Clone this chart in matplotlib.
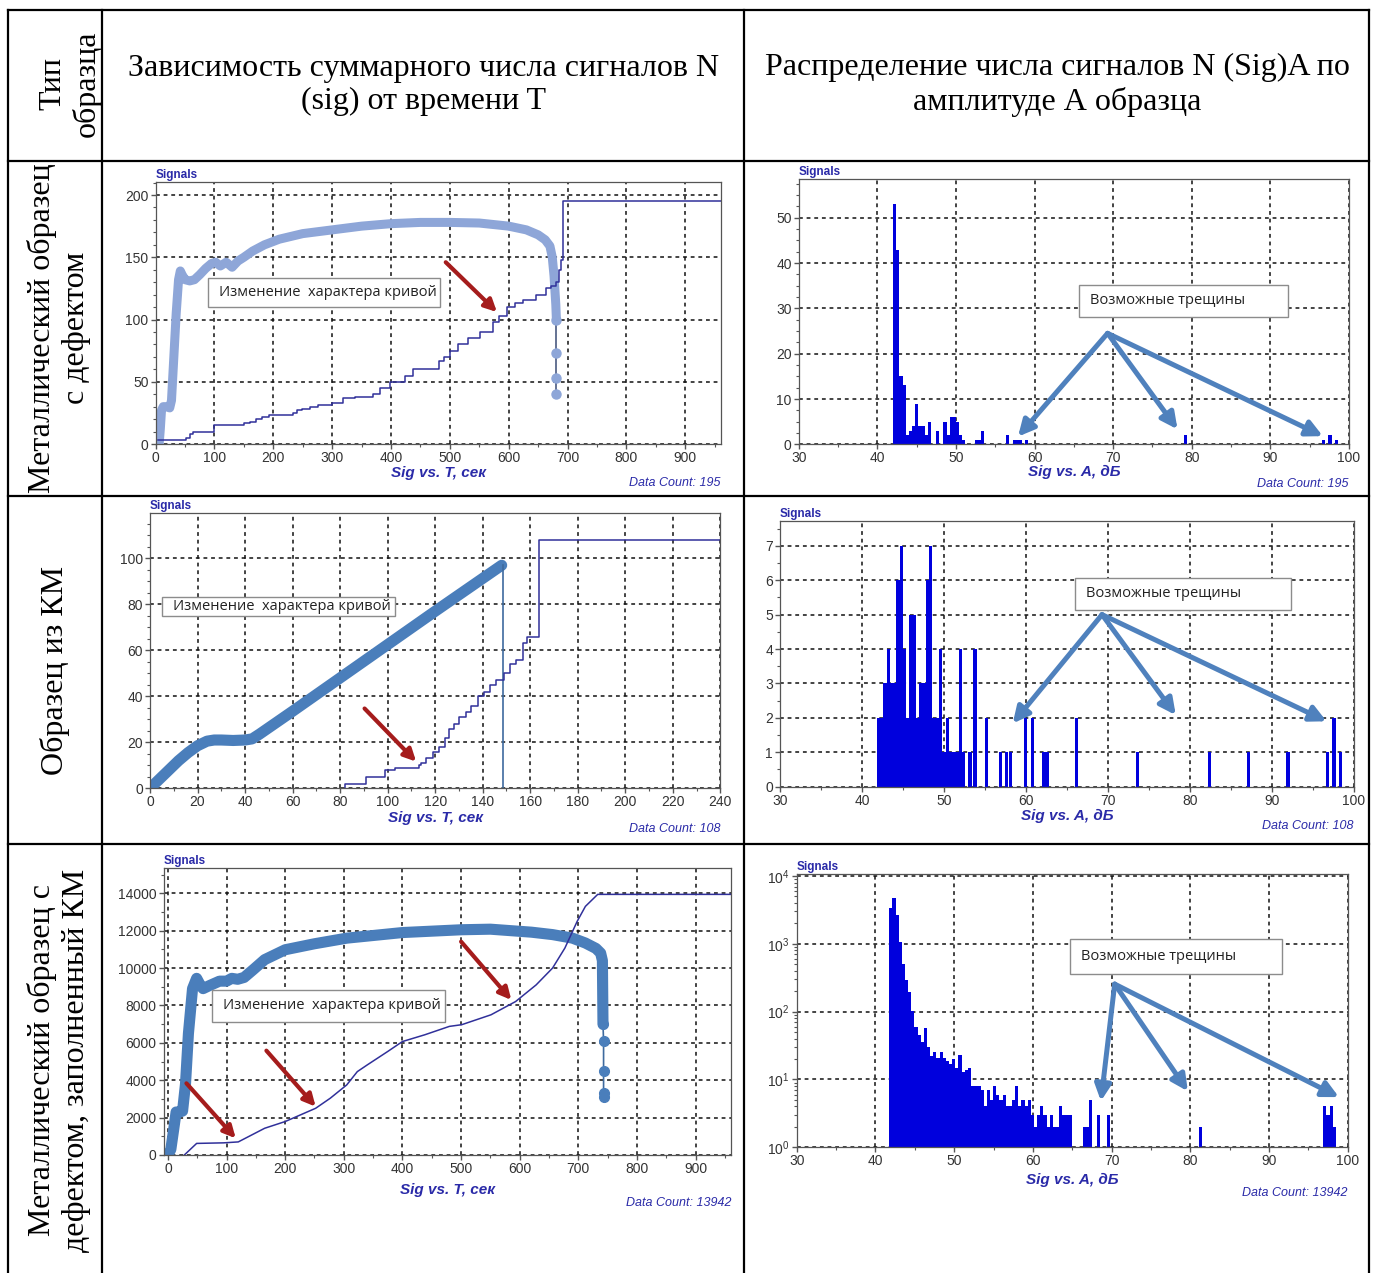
import numpy as np
import matplotlib
matplotlib.use("Agg")
import matplotlib.pyplot as plt
from matplotlib.patches import Rectangle
from matplotlib.ticker import MultipleLocator, LogLocator, NullFormatter

plt.rcParams['font.family'] = ['Liberation Sans', 'DejaVu Sans']

W, H = 1375, 1273

# образец 1: металлический с дефектом
t1_rate = [6, 8, 10, 13, 18, 24, 27, 31, 35, 39, 42, 45, 50, 58, 66, 75, 85, 95, 102, 110,
           120, 130, 140, 150, 165, 185, 210, 250, 300, 350, 400, 450, 500, 550, 600, 630,
           650, 662, 670, 674, 677, 680, 681]
n1_rate = [0, 12, 27, 30, 30, 29, 35, 70, 105, 132, 139, 136, 132, 131, 132, 136, 141, 145, 146, 143,
           146, 142, 147, 150, 155, 160, 164.5, 169, 172, 175, 177, 178, 178, 177.5, 175, 172,
           168, 164, 159, 150, 135, 112, 100]
t1_drop = [681, 681, 681, 681]
n1_drop = [100, 73, 53, 40]
t1_sum = [4, 52, 58, 64, 70, 100, 150, 160, 170, 180, 192, 234, 241, 248, 262, 276, 300, 318, 339, 370,
          381, 398, 423, 437, 479, 482, 490, 500, 514, 531, 552, 573, 583, 597, 611, 625, 646, 664,
          671, 681, 685, 688, 692, 693, 960]
n1_sum = [3, 5, 8, 10, 10, 15, 17, 18, 20, 22, 23, 25, 27, 28, 30, 31, 33, 37, 38, 40,
          45, 50, 55, 60, 60, 67, 70, 75, 80, 85, 90, 98, 103, 110, 113, 116, 120, 125,
          127, 130, 140, 148, 150, 195, 195]
amp1 = [42.0, 42.4, 42.8, 43.2, 43.6, 44.0, 44.4, 44.8, 45.2, 45.6, 46.0, 46.4, 47.4, 48.4, 48.8,
        49.2, 49.6, 50.0, 50.4, 50.8, 52.4, 52.8, 53.2, 56.4, 57.2, 57.6, 58.0, 58.8, 79.0,
        96.6, 97.4, 98.2]
cnt1 = [53, 43, 15, 13, 2, 3, 4, 9, 4, 4, 2, 5, 3, 5, 2, 6, 6, 5, 2, 1, 1, 1, 3, 2, 1, 1, 1, 1, 2,
        1, 2, 1]

# образец 2: из КМ
t2_rate = [0, 4, 8, 12, 16, 20, 24, 27, 30, 35, 40, 43, 46, 60, 80, 100, 120, 148]
n2_rate = [0, 4, 8, 12, 15.5, 18.5, 20.5, 21, 21, 20.8, 21, 21.5, 23.5, 33.5, 48, 62.5, 77, 97]
t2_drop = [148.5, 148.5]
n2_drop = [97, 0]
t2_sum = [82, 82, 91, 99, 103, 113, 114, 116, 119, 121.5, 124, 126, 128, 130, 133, 135, 138, 140.5,
          143, 145.7, 149, 151.7, 154, 157, 158.6, 163.5, 163.5, 240]
n2_sum = [0, 2, 5, 8, 9, 10, 11, 13, 16, 18, 22, 26, 28, 31, 33, 36, 40, 42,
          45, 47, 50, 54, 56, 63, 66, 66, 108, 108]
amp2 = [41.8, 42.2, 42.6, 43.0, 43.4, 43.8, 44.2, 44.6, 45.0, 45.4, 45.8, 46.2, 46.6, 47.0, 47.4,
        47.8, 48.2, 48.6, 49.0, 49.4, 49.8, 50.2, 50.6, 51.0, 51.4, 51.8, 52.2,
        53.0, 53.6, 55.0, 56.7, 57.4, 57.9, 59.8, 60.6, 62.0, 62.4, 66.0, 73.4, 82.2, 87.0, 91.8,
        96.6, 97.4, 98.2]
cnt2 = [2, 2, 3, 4, 3, 3, 6, 7, 4, 2, 5, 5, 2, 3, 3, 6, 7, 2, 2, 4, 1, 2, 1, 1, 1, 4, 1,
        1, 4, 2, 1, 1, 1, 2, 2, 1, 1, 2, 1, 1, 1, 1, 1, 2, 1]

# образец 3: металлический с дефектом, заполненный КМ
t3_rate = [0, 5, 10, 14, 20, 25, 30, 35, 42, 49, 55, 60, 70, 88, 100, 109, 119, 130, 145, 165,
           200, 250, 305, 400, 501, 550, 585, 620, 656, 690, 712, 730, 738, 741, 742]
n3_rate = [0, 300, 1400, 2300, 2300, 2350, 3800, 6500, 8900, 9450, 9100, 8900, 9050, 9300, 9300,
           9450, 9400, 9500, 9900, 10450, 10980, 11300, 11600, 11900, 12050, 12080, 12000, 11920,
           11790, 11600, 11340, 11050, 10800, 10400, 7000]
t3_drop = [742, 743, 743, 743, 743]
n3_drop = [7000, 6100, 4500, 3300, 3100]
t3_sum = [28, 49, 95, 120, 165, 200, 252, 277, 305, 323, 340, 375, 400, 438, 480, 501, 551, 593,
          628, 656, 677, 698, 712, 733, 960]
n3_sum = [0, 620, 650, 700, 1430, 1790, 2500, 3040, 3750, 4460, 4820, 5540, 6070, 6430, 6880,
          6970, 7500, 8210, 9100, 10000, 11070, 12500, 13300, 13942, 13942]
amp3 = [41.75, 42.15, 42.55, 42.95, 43.35, 43.75, 44.15, 44.55, 44.95, 45.35, 45.75, 46.15, 46.55,
        46.95, 47.35, 47.75, 48.15, 48.55, 48.95, 49.35, 49.75, 50.15, 50.55, 50.95, 51.35, 51.75,
        52.15, 52.55, 52.95, 53.35, 53.75, 54.15, 54.55, 54.95, 55.35, 55.75, 56.15, 56.55, 56.95,
        57.35, 57.75, 58.15, 58.55, 58.95, 59.35, 59.75, 60.15, 60.55, 60.95, 61.35, 61.75, 62.15,
        62.55, 62.95, 63.35, 63.75, 64.15, 64.55,
        66.35, 66.75, 67.15, 68.15, 69.45, 81.15, 96.9, 97.3, 97.7, 98.1]
cnt3 = [3400, 4700, 2700, 1050, 500, 290, 195, 104, 59, 45, 36, 57, 30,
        22, 25, 21, 25, 21, 19, 17, 20, 15, 23, 13, 14, 15,
        8, 8, 8, 7, 4, 7, 5, 8, 6, 5, 6, 4, 4,
        5, 8, 4, 5, 4, 5, 3, 2, 3, 4, 3, 2, 3,
        2, 2, 4, 3, 3, 3,
        2, 2, 5, 3, 3, 2, 4, 3, 4, 2]

LIGHT = '#8ea6d8'
STEEL = '#4a7ebb'
NAVY = '#30309a'
BAR = '#0000dd'
RED = '#a51c1c'
ARROW = '#4f81bd'
LABEL = '#2a2aa8'

fig = plt.figure(figsize=(W / 100, H / 100), dpi=100)

# таблица
bg = fig.add_axes([0, 0, 1, 1])
bg.set_xlim(0, W)
bg.set_ylim(H, 0)
bg.axis('off')
for x in (8.5, 102.5, 744.5, 1369.5):
    bg.plot([x, x], [9.5, H], color='black', lw=1.6)
for y in (9.5, 160.5, 496, 844):
    bg.plot([8.5, 1369.5], [y, y], color='black', lw=1.6)

serif = dict(family='Liberation Serif', fontsize=23, color='black', ha='center', va='center',
             multialignment='center', linespacing=1.2)
bg.text(70, 84, 'Тип\nобразца', rotation=90, **serif)
bg.text(424, 85, 'Зависимость суммарного числа сигналов N\n(sig) от времени T', **serif)
bg.text(1057, 85, 'Распределение числа сигналов N (Sig)A по\nамплитуде А образца', **serif)
bg.text(59, 328, 'Металлический образец\nс дефектом', rotation=90, **serif)
bg.text(55, 670, 'Образец из КМ', rotation=90, **serif)
bg.text(59, 1060, 'Металлический образец с\nдефектом, заполненный КМ', rotation=90, **serif)


def panel(x0, y0, x1, y1):
    return fig.add_axes([x0 / W, 1 - y1 / H, (x1 - x0) / W, (y1 - y0) / H])


def frame(ax, xmaj, xmin, ymaj=None, ymin=None):
    ax.xaxis.set_major_locator(MultipleLocator(xmaj))
    ax.xaxis.set_minor_locator(MultipleLocator(xmin))
    if ymaj:
        ax.yaxis.set_major_locator(MultipleLocator(ymaj))
        ax.yaxis.set_minor_locator(MultipleLocator(ymin))
    ax.grid(True, which='major', color='#111111', linestyle=(0, (2.5, 2.5)), lw=1.1)
    ax.set_axisbelow(True)
    ax.tick_params(which='both', direction='out', colors='#555555', labelcolor='#333333',
                   labelsize=10, pad=1.5)
    ax.tick_params(which='major', length=3.6, width=1)
    ax.tick_params(which='minor', length=2.2, width=0.8)
    for s in ax.spines.values():
        s.set_color('#555555')
        s.set_linewidth(0.9)


def captions(ax, xlabel, count, lab_off, cnt_off):
    ax.text(0, 1.004, 'Signals', transform=ax.transAxes, ha='left', va='bottom',
            fontsize=8.5, fontweight='bold', color=LABEL)
    ax.annotate(xlabel, xy=(0.5, 0), xycoords='axes fraction', xytext=(0, -lab_off * 0.72),
                textcoords='offset points', ha='center', va='center', fontsize=11,
                fontweight='bold', fontstyle='italic', color=LABEL)
    ax.annotate(f'Data Count: {count}', xy=(1, 0), xycoords='axes fraction',
                xytext=(0, -cnt_off * 0.72), textcoords='offset points', ha='right',
                va='center', fontsize=9, fontstyle='italic', color=LABEL)


def note(ax, x0, y0, x1, y1, text):
    ax.add_patch(Rectangle((x0, y0), x1 - x0, y1 - y0, facecolor='white', edgecolor='#8c8c8c',
                           lw=1, zorder=5))
    yc = np.sqrt(y0 * y1) if ax.get_yscale() == 'log' else (y0 + y1) / 2
    ax.annotate(text, xy=(x0, yc), xytext=(8, 0), textcoords='offset points', ha='left',
                va='center', fontsize=10.5, color='#222222', zorder=6,
                family=['Open Sans', 'DejaVu Sans'])


def pointer(ax, tail, head, color, lw, ms):
    ax.annotate('', xy=head, xytext=tail, zorder=7, annotation_clip=False,
                arrowprops=dict(arrowstyle='-|>', color=color, lw=lw, mutation_scale=ms,
                                shrinkA=0, shrinkB=0))


# --- N(sig) от T, образец 1
ax = panel(155.6, 181.7, 720.6, 444)
ax.plot(t1_rate, n1_rate, color=LIGHT, lw=6.5, solid_capstyle='round', solid_joinstyle='round')
ax.plot(t1_drop, n1_drop, color='#4a5a80', lw=1.2, marker='o', ms=6.5, mfc=LIGHT, mec=LIGHT)
ax.plot(t1_sum, n1_sum, color=NAVY, lw=1.1, drawstyle='steps-post')
ax.set_xlim(0, 960)
ax.set_ylim(0, 210.7)
frame(ax, 100, 50, 50, 10)
captions(ax, 'Sig vs. T, сек', 195, 29, 39)
note(ax, 89, 110, 484, 133, 'Изменение  характера кривой')
pointer(ax, (493, 146), (580, 106), RED, 3, 18)

# --- N(sig) по A, образец 1
ax = panel(798.8, 179.3, 1348.8, 444.3)
ax.bar(amp1, cnt1, width=0.4, align='edge', color=BAR, lw=0)
ax.set_xlim(30, 100)
ax.set_ylim(0, 58.5)
frame(ax, 10, 5, 10, 2.5)
captions(ax, 'Sig vs. A, дБ', 195, 28, 40)
note(ax, 65.7, 28.2, 92.25, 35.1, 'Возможные трещины')
for head in [(57.9, 1.7), (78.2, 3.3), (96.7, 1.8)]:
    pointer(ax, (69.3, 24.5), head, ARROW, 3.6, 24)

# --- N(sig) от T, образец 2
ax = panel(150, 513.3, 720.3, 788.3)
ax.plot(t2_rate, n2_rate, color=STEEL, lw=8, solid_capstyle='round', solid_joinstyle='round')
ax.plot(t2_drop, n2_drop, color='#3e6a9e', lw=1.2)
ax.plot(t2_sum, n2_sum, color=NAVY, lw=1.1, drawstyle='steps-post')
ax.set_xlim(0, 240)
ax.set_ylim(0, 119.6)
frame(ax, 20, 10, 20, 5)
captions(ax, 'Sig vs. T, сек', 108, 30, 41)
note(ax, 5.1, 75, 103, 83, 'Изменение  характера кривой')
pointer(ax, (90.3, 34.7), (112, 11.6), RED, 3, 18)

# --- N(sig) по A, образец 2
ax = panel(780, 521, 1353.6, 786.7)
ax.bar(amp2, cnt2, width=0.4, align='edge', color=BAR, lw=0)
ax.set_xlim(30, 100)
ax.set_ylim(0, 7.72)
frame(ax, 10, 5, 1, 0.5)
captions(ax, 'Sig vs. A, дБ', 108, 29, 39)
note(ax, 66.0, 5.13, 92.35, 6.07, 'Возможные трещины')
for head in [(58.4, 1.84), (78.3, 2.08), (96.7, 1.9)]:
    pointer(ax, (69.3, 5.0), head, ARROW, 3.6, 24)

# --- N(sig) от T, образец 3
ax = panel(163.8, 868.3, 731.4, 1155)
ax.plot(t3_rate, n3_rate, color=STEEL, lw=8, solid_capstyle='round', solid_joinstyle='round')
ax.plot(t3_drop, n3_drop, color='#3e6a9e', lw=1.2, marker='o', ms=7, mfc=STEEL, mec=STEEL)
ax.plot(t3_sum, n3_sum, color=NAVY, lw=1.1)
ax.set_xlim(-7, 961)
ax.set_ylim(0, 15337)
frame(ax, 100, 50, 2000, 1000)
captions(ax, 'Sig vs. T, сек', 13942, 35, 48)
note(ax, 75, 7134, 473, 8828, 'Изменение  характера кривой')
pointer(ax, (31.6, 3834), (115.7, 892), RED, 3, 18)
pointer(ax, (168, 5582), (252, 2586), RED, 3, 18)
pointer(ax, (500, 11414), (585.7, 8293), RED, 3, 18)

# --- N(sig) по A, образец 3
ax = panel(796.8, 874.3, 1347.6, 1147.3)
ax.bar(amp3, cnt3, width=0.4, align='edge', color=BAR, lw=0, log=True)
ax.set_xlim(30, 100)
ax.set_ylim(1, 10600)
frame(ax, 10, 5)
ax.yaxis.set_major_locator(LogLocator(base=10, numticks=10))
ax.yaxis.set_minor_locator(LogLocator(base=10, subs=np.arange(2, 10), numticks=20))
ax.yaxis.set_minor_formatter(NullFormatter())
captions(ax, 'Sig vs. A, дБ', 13942, 33, 46)
note(ax, 64.7, 360, 91.7, 1170, 'Возможные трещины')
for head in [(68.65, 4.8), (79.7, 6.7), (98.9, 5.5)]:
    pointer(ax, (70.4, 255), head, ARROW, 3.6, 24)

fig.savefig('out.png', dpi=100)
